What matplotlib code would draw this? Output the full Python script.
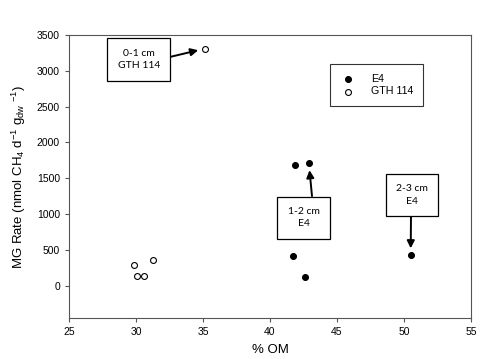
import matplotlib
matplotlib.use("Agg")
import matplotlib.pyplot as plt

plt.rcParams['font.family'] = ['Liberation Sans', 'DejaVu Sans']
plt.rcParams['mathtext.fontset'] = 'custom'
plt.rcParams['mathtext.rm'] = 'Liberation Sans'
plt.rcParams['mathtext.it'] = 'Liberation Sans'

# % OM and MG rate
e4_om = [41.7, 42.6, 41.9, 42.9, 50.5]
e4_rate = [415, 125, 1680, 1710, 425]
gth_om = [35.15, 29.85, 30.05, 30.6, 31.3]
gth_rate = [3310, 290, 135, 135, 360]

fig = plt.figure(figsize=(4.8, 3.59), dpi=100)
ax = fig.add_axes([0.1437, 0.1142, 0.8375, 0.7883])

ax.scatter(e4_om, e4_rate, s=18, c='black', edgecolors='black', linewidths=0.8, label='E4', zorder=3)
ax.scatter(gth_om, gth_rate, s=18, facecolors='white', edgecolors='black', linewidths=0.8, label='GTH 114', zorder=3)

ax.set_xlim(25, 55)
ax.set_ylim(-450, 3500)
ax.set_xticks(range(25, 56, 5))
ax.set_yticks(range(0, 3501, 500))
ax.tick_params(labelsize=7.5, length=3, width=0.8, color='#555555', direction='out')
for sp in ax.spines.values():
    sp.set_color('#555555')
    sp.set_linewidth(0.8)

ax.set_xlabel('% OM', fontsize=9.5, labelpad=5)
ax.set_ylabel(r'MG Rate (nmol CH$_4$ d$^{-1}$ g$_{dw}$ $^{-1}$)', fontsize=9.5, labelpad=6)

leg = ax.legend(loc='upper left', bbox_to_anchor=(0.65, 0.897), fontsize=7.7, frameon=True,
                fancybox=False, edgecolor='black', handletextpad=1.3, borderpad=0.9,
                handlelength=1.6, labelspacing=0.25, borderaxespad=0)
leg.get_frame().set_linewidth(0.8)

box = dict(boxstyle='square,pad=1.0', facecolor='white', edgecolor='black', linewidth=0.9)
afont = dict(fontsize=7.5, family=['Lato', 'DejaVu Sans'], ha='center', va='center', linespacing=1.5)


def arrow(rel=(0.5, 0.5)):
    return dict(arrowstyle='-|>', color='black', lw=1.4, mutation_scale=11,
                shrinkA=0, shrinkB=5, relpos=rel)


ax.annotate('0-1 cm\nGTH 114', xy=(35.15, 3310), xytext=(30.2, 3160),
            bbox=box, arrowprops=arrow((1.0, 0.5)), **afont)
ax.annotate('1-2 cm\nE4', xy=(42.9, 1710), xytext=(42.5, 950),
            bbox=box, arrowprops=arrow((0.8, 1.0)), **afont)
ax.annotate('2-3 cm\nE4', xy=(50.5, 425), xytext=(50.6, 1265),
            bbox=box, arrowprops=arrow((0.47, 0.0)), **afont)

fig.savefig('out.png', dpi=100)
